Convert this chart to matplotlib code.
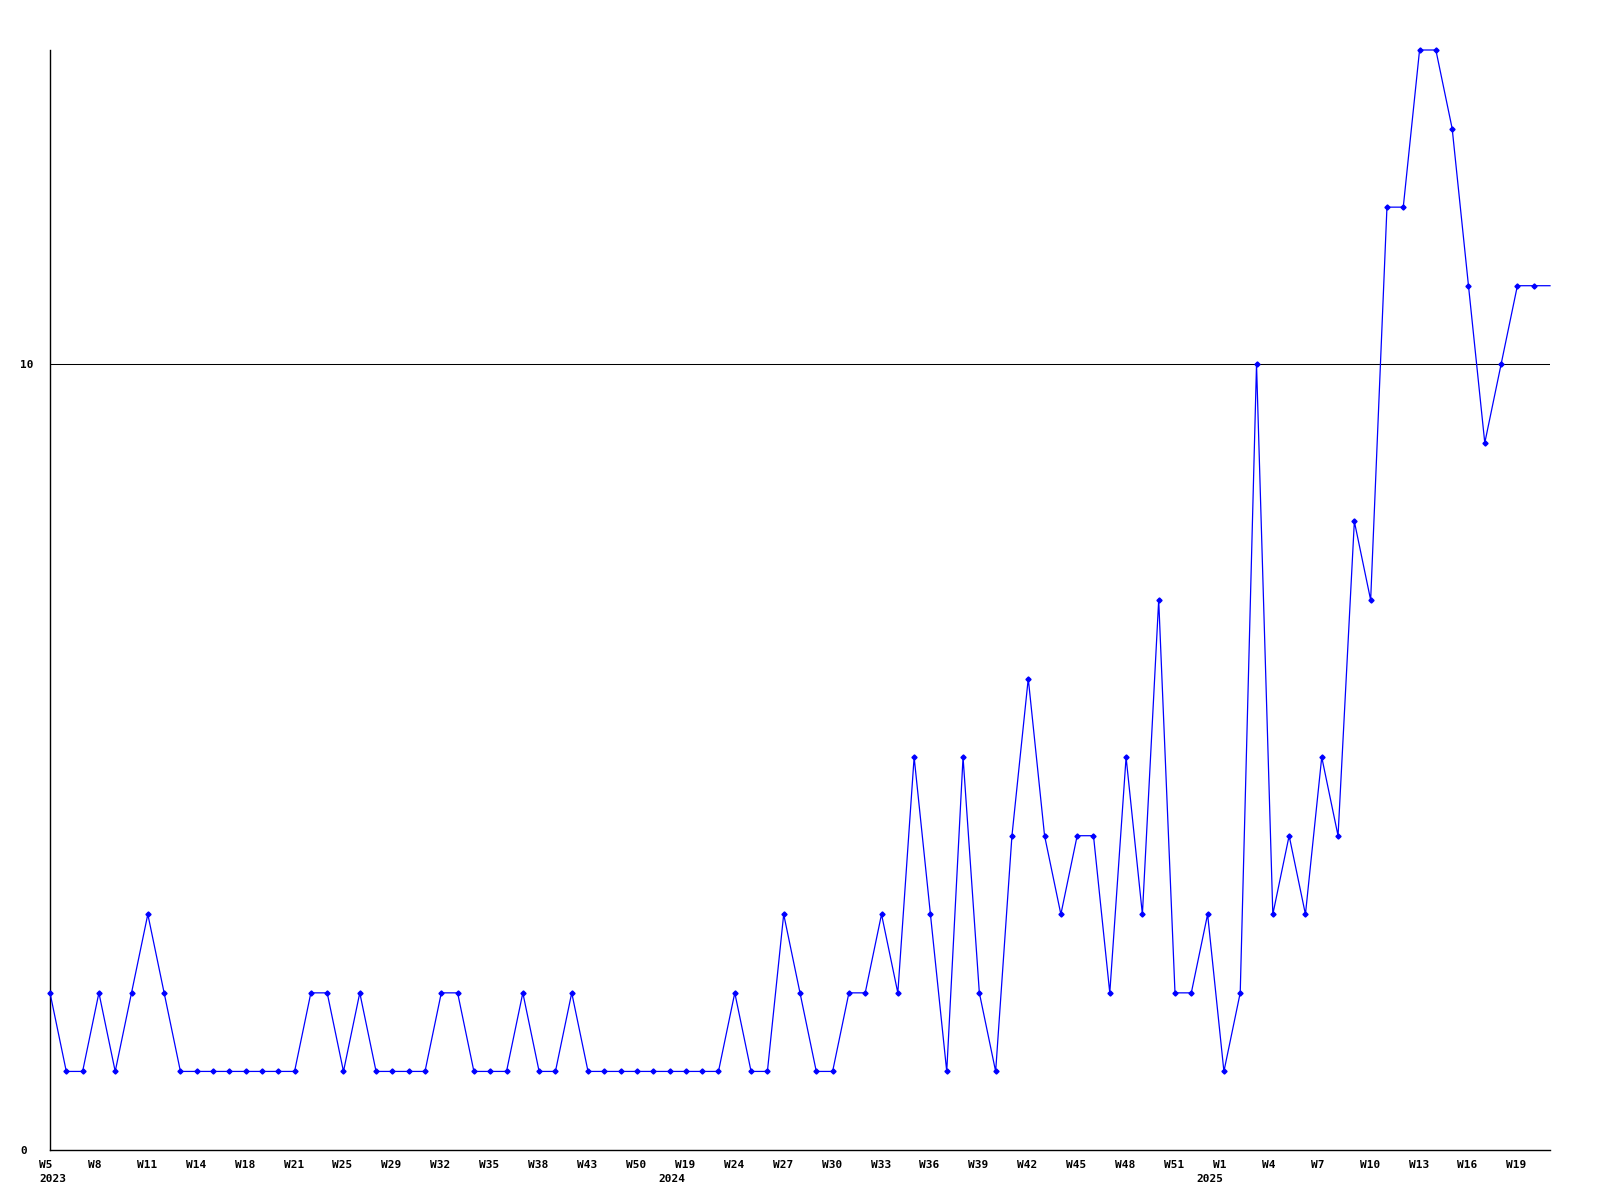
import numpy as np
import matplotlib
matplotlib.use("Agg")
import matplotlib.pyplot as plt
import matplotlib.transforms as mtransforms

# ---- data ----
values = [2, 1, 1, 2, 1, 2, 3, 2, 1,
          1, 1, 1, 1, 1, 1, 1,
          2, 2, 1, 2, 1, 1, 1, 1, 2, 2, 1, 1, 1, 2, 1, 1,
          2, 1, 1, 1, 1, 1, 1, 1, 1, 1,
          2, 1, 1, 3, 2, 1, 1, 2, 2, 3, 2, 5, 3, 1, 5, 2, 1, 4, 6, 4, 3, 4, 4,
          2, 5, 3, 7, 2, 2, 3, 1, 2, 10, 3, 4, 3, 5, 4, 8, 7, 12, 12, 14, 14,
          13, 11, 9, 10, 11, 11,
          11]
week_labels = ["W5", "W8", "W11", "W14", "W18", "W21", "W25", "W29", "W32",
               "W35", "W38", "W43", "W50", "W19", "W24", "W27", "W30", "W33",
               "W36", "W39", "W42", "W45", "W48", "W51", "W1", "W4", "W7",
               "W10", "W13", "W16", "W19"]
year_labels = ["2023", "2024", "2025"]
year_label_idx = [0, 38, 71]
y_ticks = [0, 10]

# ---- figure ----
W, H = 1600, 1200
fig = plt.figure(figsize=(16, 12), dpi=100)
left, right, top, bottom = 50, 1550, 50, 1150
ax = fig.add_axes([left / W, 1 - bottom / H, (right - left) / W, (bottom - top) / H])

x = np.arange(len(values))
ax.plot(x, values, color="#0000ff", lw=0.9, marker="D", markersize=2.6,
        markevery=list(range(len(values) - 1)), zorder=3, clip_on=False)

ax.set_xlim(0, len(values) - 1)
ax.set_ylim(0, 14)
ax.axhline(10, color="black", lw=0.75, zorder=2)

for s in ["top", "right"]:
    ax.spines[s].set_visible(False)
for s in ["left", "bottom"]:
    ax.spines[s].set_color("black")
    ax.spines[s].set_linewidth(1.0)
ax.set_xticks([])
ax.set_yticks([])

font = dict(family="DejaVu Sans Mono", fontweight="bold", fontsize=8, color="black")

def px_offset(dx, dy):
    return mtransforms.ScaledTranslation(dx / 100, dy / 100, fig.dpi_scale_trans)

xt = mtransforms.blended_transform_factory(ax.transData, ax.transAxes)
tick_idx = np.arange(0, len(values), 3)[:len(week_labels)]
for i, lab in zip(tick_idx, week_labels):
    ax.text(i, 0, lab, transform=xt + px_offset(-11, -10), ha="left", va="top", **font)
for i, lab in zip(year_label_idx, year_labels):
    ax.text(i, 0, lab, transform=xt + px_offset(-11, -24), ha="left", va="top", **font)

yt = mtransforms.blended_transform_factory(fig.transFigure, ax.transData)
for v in y_ticks:
    ax.text(20 / W, v, str(v), transform=yt + px_offset(0, -1), ha="left", va="center", **font)

fig.savefig("out.png", dpi=100, facecolor="white")
